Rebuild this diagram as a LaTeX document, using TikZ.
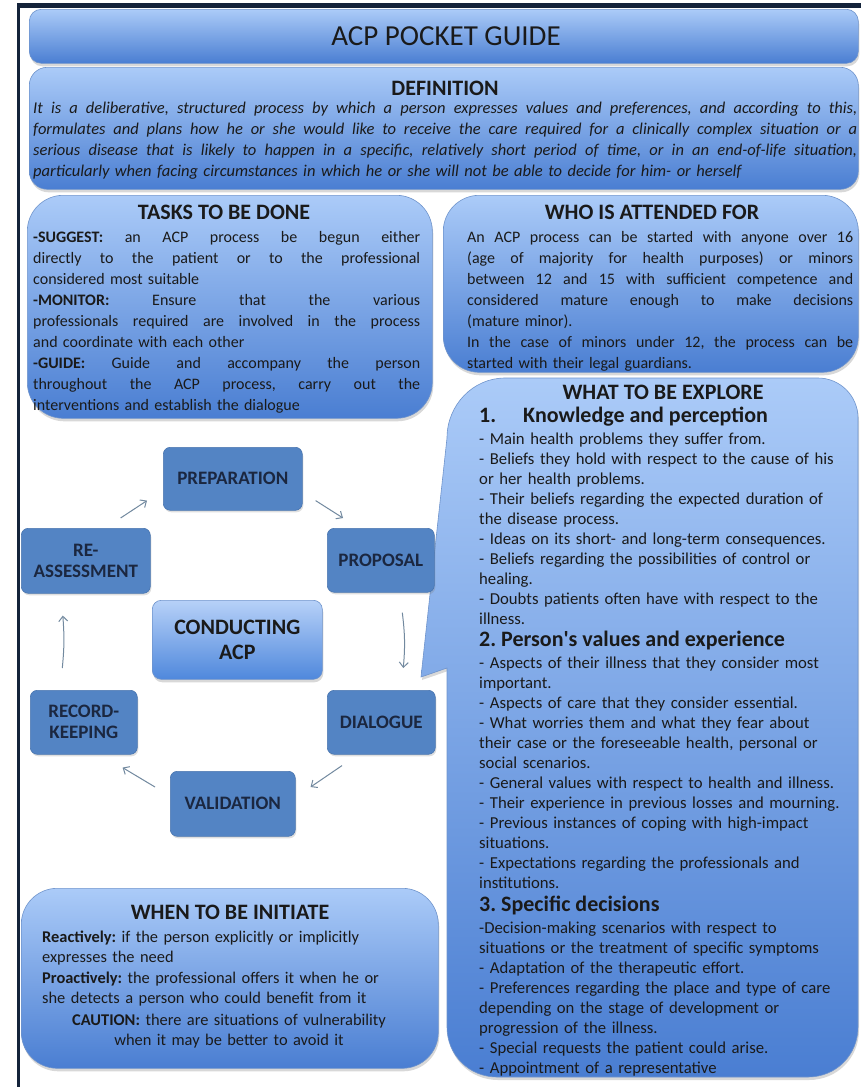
\documentclass[tikz,border=0pt]{standalone}
\usepackage{fontspec}
\setmainfont{Carlito}
\frenchspacing
\usetikzlibrary{shadows,arrows.meta}
\definecolor{framenavy}{HTML}{14233A}
\definecolor{paneltop}{HTML}{ABCBF8}
\definecolor{panelbot}{HTML}{4A7ED2}
\definecolor{panelline}{HTML}{6F94CC}
\definecolor{stagefill}{HTML}{5384C4}
\definecolor{stageline}{HTML}{4A76B0}
\definecolor{stagetext}{HTML}{1B2740}
\definecolor{hubtop}{HTML}{B7D1F8}
\definecolor{hubbot}{HTML}{4F88DC}
\definecolor{bodytext}{HTML}{1A1A1A}
\definecolor{cyclearrow}{HTML}{72899F}
% one line whose word spaces stretch to a given width
\newcommand\jline[2]{\makebox[#1][s]{\spaceskip=\fontdimen2\font plus 1fill\relax #2}}
\begin{document}
\begin{tikzpicture}[x=1pt,y=-1pt,
  panel/.style={draw=panelline, line width=0.6pt, top color=paneltop, bottom color=panelbot,
    drop shadow={opacity=0.3, shadow xshift=1pt, shadow yshift=-3pt}},
  box/.style={panel, anchor=north west, inner sep=0pt},
  stage/.style={draw=stageline, line width=0.6pt, fill=stagefill, rounded corners=7pt,
    anchor=north west, inner sep=0pt, align=center, text=stagetext,
    font=\fontsize{19}{21}\selectfont\bfseries,
    drop shadow={opacity=0.25, shadow xshift=1pt, shadow yshift=-2pt}},
  hub/.style={draw=panelline, line width=0.6pt, top color=hubtop, bottom color=hubbot,
    rounded corners=9pt, anchor=north west, inner sep=0pt, align=center, text=bodytext,
    font=\fontsize{22}{25}\selectfont\bfseries,
    drop shadow={opacity=0.3, shadow xshift=1pt, shadow yshift=-3pt}},
  cyc/.style={draw=cyclearrow, line width=1pt, -{Straight Barb[length=5pt,width=9pt]}},
  hd/.style={text=bodytext, inner sep=0pt, anchor=base, font=\fontsize{22}{25}\selectfont\bfseries},
  txt/.style={text=bodytext, inner sep=0pt, anchor=base west, align=left},
]
\useasboundingbox (0,0) rectangle (861,1087);
\fill[white] (0,0) rectangle (861,1087);

% frame lines
\fill[framenavy] (17,3) rectangle (861,8);
\fill[framenavy] (17,3) rectangle (20,1087);

% title and definition
\node[box, rounded corners=12pt, minimum width=829pt, minimum height=54pt] (titlebox) at (29,9) {};
\node[text=bodytext, inner sep=0pt, anchor=base, font=\fontsize{29}{32}\selectfont] (titletext) at (446,45) {ACP POCKET GUIDE};

\node[box, rounded corners=18pt, minimum width=829pt, minimum height=122pt] (defbox) at (29,67) {};
\node[hd] (defhead) at (445,95) {DEFINITION};
\node[txt, text width=830pt, font=\fontsize{16.5}{21}\selectfont\itshape] (deftext) at (33,113) {%
\jline{824pt}{It is a deliberative, structured process by which a person expresses values and preferences, and according to this,}\\
\jline{824pt}{formulates and plans how he or she would like to receive the care required for a clinically complex situation or a}\\
\jline{824pt}{serious disease that is likely to happen in a specific, relatively short period of time, or in an end-of-life situation,}\\
particularly when facing circumstances in which he or she will not be able to decide for him- or herself};

% tasks
\node[box, rounded corners=36pt, minimum width=405pt, minimum height=223pt] (taskbox) at (27,195) {};
\node[hd] (taskhead) at (224,219) {TASKS TO BE DONE};
\node[txt, text width=390pt, font=\fontsize{16}{21}\selectfont] (tasktext) at (33,242) {%
\jline{387pt}{\textbf{-SUGGEST:} an ACP process be begun either}\\
\jline{387pt}{directly to the patient or to the professional}\\
considered most suitable\\
\jline{387pt}{\textbf{-MONITOR:} Ensure that the various}\\
\jline{387pt}{professionals required are involved in the process}\\
and coordinate with each other\\
\jline{387pt}{\textbf{-GUIDE:} Guide and accompany the person}\\
\jline{387pt}{throughout the ACP process, carry out the}\\
interventions and establish the dialogue};

% who is attended
\node[box, rounded corners=36pt, minimum width=415pt, minimum height=177pt] (whobox) at (443,195) {};
\node[hd] (whohead) at (652,219) {WHO IS ATTENDED FOR};
\node[txt, text width=390pt, font=\fontsize{16}{21}\selectfont] (whotext) at (467,242) {%
\jline{386pt}{An ACP process can be started with anyone over 16}\\
\jline{386pt}{(age of majority for health purposes) or minors}\\
\jline{386pt}{between 12 and 15 with sufficient competence and}\\
\jline{386pt}{considered mature enough to make decisions}\\
(mature minor).\\
\jline{386pt}{In the case of minors under 12, the process can be}\\
started with their legal guardians.};

% what to be explored: callout pointing at the cycle
\path[panel] (505,378) -- (818,378) .. controls (840,378) and (858,396) .. (858,418)
  -- (858,1027) .. controls (858,1055) and (836,1077) .. (808,1077)
  -- (497,1077) .. controls (469,1077) and (447,1055) .. (447,1027)
  -- (447,668) -- (421,677) -- (447,438)
  .. controls (447,405) and (473,378) .. (505,378) -- cycle;
\node[hd] (whathead) at (663,399) {WHAT TO BE EXPLORE};
\node[txt, font=\fontsize{22}{25}\selectfont\bfseries] (sec1) at (479,422) {1.\hspace{27pt}Knowledge and perception};
\node[txt, text width=380pt, font=\fontsize{16.7}{20}\selectfont] (sec1text) at (479,444) {%
- Main health problems they suffer from.\\
- Beliefs they hold with respect to the cause of his\\
or her health problems.\\
- Their beliefs regarding the expected duration of\\
the disease process.\\
- Ideas on its short- and long-term consequences.\\
- Beliefs regarding the possibilities of control or\\
healing.\\
- Doubts patients often have with respect to the\\
illness.};
\node[txt, font=\fontsize{22}{25}\selectfont\bfseries] (sec2) at (479,646) {2. Person\textquotesingle s values and experience};
\node[txt, text width=380pt, font=\fontsize{16.7}{20}\selectfont] (sec2text) at (479,668) {%
- Aspects of their illness that they consider most\\
important.\\
- Aspects of care that they consider essential.\\
- What worries them and what they fear about\\
their case or the foreseeable health, personal or\\
social scenarios.\\
- General values with respect to health and illness.\\
- Their experience in previous losses and mourning.\\
- Previous instances of coping with high-impact\\
situations.\\
- Expectations regarding the professionals and\\
institutions.};
\node[txt, font=\fontsize{22}{25}\selectfont\bfseries] (sec3) at (479,911) {3. Specific decisions};
\node[txt, text width=380pt, font=\fontsize{16.7}{20}\selectfont] (sec3text) at (479,933) {%
-Decision-making scenarios with respect to\\
situations or the treatment of specific symptoms\\
- Adaptation of the therapeutic effort.\\
- Preferences regarding the place and type of care\\
depending on the stage of development or\\
progression of the illness.\\
- Special requests the patient could arise.\\
- Appointment of a representative};

% when to be initiated
\node[box, rounded corners=36pt, minimum width=417pt, minimum height=180pt] (whenbox) at (21,888) {};
\node[hd] (whenhead) at (230,919) {WHEN TO BE INITIATE};
\node[txt, text width=395pt, font=\fontsize{16.4}{20.6}\selectfont] (whentext) at (42,942) {%
\textbf{Reactively:} if the person explicitly or implicitly\\
expresses the need\\
\textbf{Proactively:} the professional offers it when he or\\
she detects a person who could benefit from it};
\node[text=bodytext, inner sep=0pt, anchor=base, text width=400pt, align=center, font=\fontsize{16.4}{20.6}\selectfont] (caution) at (229,1025) {%
\textbf{CAUTION:} there are situations of vulnerability\\
when it may be better to avoid it};

% ACP cycle
\node[stage, minimum width=139pt, minimum height=63pt] (prep) at (163,447) {PREPARATION};
\node[stage, minimum width=107pt, minimum height=64pt] (prop) at (327,528) {PROPOSAL};
\node[stage, minimum width=108pt, minimum height=64pt] (dial) at (327,690) {DIALOGUE};
\node[stage, minimum width=125pt, minimum height=65pt] (val) at (170,771) {VALIDATION};
\node[stage, minimum width=107pt, minimum height=64pt] (rec) at (30,690) {RECORD-\\KEEPING};
\node[stage, minimum width=129pt, minimum height=65pt] (reas) at (21,528) {RE-\\ASSESSMENT};
\node[hub, minimum width=170pt, minimum height=79pt] (hubnode) at (152,600) {CONDUCTING\\ACP};

\draw[cyc] ([shift={(-30,-10)}]reas.north east) -- ([shift={(-16,-10)}]prep.south west);
\draw[cyc] ([shift={(13,-10)}]prep.south east) -- ([shift={(16,-10)}]prop.north west);
\draw[cyc] ([shift={(21.5,20)}]prop.south) to[bend left=6] ([shift={(22,-22)}]dial.north);
\draw[cyc] ([shift={(15,11)}]dial.south west) -- ([shift={(15,16)}]val.north east);
\draw[cyc] ([shift={(-15,16)}]val.north west) -- ([shift={(-15,13)}]rec.south east);
\draw[cyc] ([shift={(-21.5,-22)}]rec.north) to[bend right=5] ([shift={(-23,22)}]reas.south);
\end{tikzpicture}
\end{document}
